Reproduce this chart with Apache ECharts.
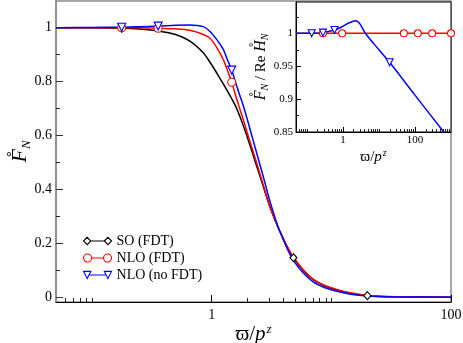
<!DOCTYPE html>
<html>
<head>
<meta charset="utf-8">
<script src="https://cdn.jsdelivr.net/npm/echarts@6/dist/echarts.min.js"></script>
<style>
  html, body { margin: 0; padding: 0; background: #fff; }
  #chart { width: 463px; height: 343px; }
</style>
</head>
<body>
<div id="chart"></div>
<script>
// main panel: F_N vs varpi/p^z
const mainX = [0.05, 0.1, 0.177, 0.25, 0.357, 0.5, 0.658, 0.85, 0.968, 1.1, 1.25, 1.335, 1.47, 1.62, 1.84, 2.09, 2.38, 2.7, 3.07, 3.68, 4.82, 7.09, 11.1, 20, 40, 100];
const soFdt = [1.0, 0.9995, 0.998, 0.995, 0.988, 0.975, 0.95, 0.907, 0.872, 0.833, 0.792, 0.77, 0.737, 0.70, 0.637, 0.565, 0.487, 0.412, 0.336, 0.25, 0.148, 0.066, 0.0285, 0.0074, 0.003, 0.002];
const nloFdt = [1.0, 1.0, 1.0, 1.0, 0.998, 0.996, 0.991, 0.975, 0.961, 0.927, 0.882, 0.85, 0.798, 0.735, 0.658, 0.578, 0.498, 0.417, 0.337, 0.25, 0.15, 0.068, 0.03, 0.008, 0.003, 0.002];
const nloNoFdt = [1.0, 1.001, 1.002, 1.004, 1.006, 1.009, 1.010, 1.004, 0.986, 0.957, 0.92, 0.888, 0.843, 0.783, 0.71, 0.625, 0.535, 0.448, 0.357, 0.25, 0.138, 0.058, 0.024, 0.006, 0.0025, 0.002];
const soMarks = [0.177, 4.82, 20];
const nloMarks = [0.177, 0.357, 1.47];

// inset: F_N / Re H_N
const insetFdtX = [0.05, 0.28, 0.955, 49, 120, 300, 1000];
const insetFdt = [1, 1, 1, 1, 1, 1, 1];
const insetNoFdtX = [0.05, 0.136, 0.28, 0.584, 0.955, 1.5, 2.28, 3.0, 4.2, 10, 19.8, 100, 630, 1000];
const insetNoFdt = [1.0, 1.0, 1.001, 1.005, 1.010, 1.016, 1.019, 1.014, 1.0, 0.975, 0.956, 0.906, 0.85, 0.836];
const insetFdtMarks = [0.28, 0.955, 49, 120, 300, 1000];
const insetNoFdtMarks = [0.136, 0.28, 0.584, 19.8];

// tick values
const mainYTicks = [0, 0.2, 0.4, 0.6, 0.8, 1];
const mainYMinor = [0.1, 0.3, 0.5, 0.7, 0.9];
const mainXTicks = [1, 100];
const mainXMinor = [0.06, 0.07, 0.08, 0.09, 0.1, 2, 3, 4, 5, 6, 7, 8, 9, 10];
const insetYTicks = [0.85, 0.9, 0.95, 1];
const insetYMinor = [0.875, 0.925, 0.975, 1.025];
const insetXTicks = [1, 100];
const insetXMinor = [0.06, 0.07, 0.08, 0.09, 0.1, 0.2, 0.3, 0.4, 0.5, 0.6, 0.7, 0.8, 0.9,
  2, 3, 4, 5, 6, 7, 8, 9, 10, 20, 30, 40, 50, 60, 70, 80, 90, 200, 300, 400, 500, 600, 700, 800, 900];

const serif = 'Liberation Serif';

function pts(xs, ys, marks, color, symbol, size, rotate) {
  return xs.map((x, i) => {
    const item = { value: [x, ys[i]] };
    if (marks.indexOf(x) >= 0) {
      item.symbol = symbol;
      item.symbolSize = size;
      item.symbolRotate = rotate || 0;
      item.itemStyle = { color: '#fff', borderColor: color, borderWidth: 1.1 };
    }
    return item;
  });
}

function line(name, color, data, xi, yi) {
  return {
    name: name, type: 'line', xAxisIndex: xi, yAxisIndex: yi,
    data: data, symbol: 'none', smooth: 0.3,
    lineStyle: { color: color, width: 1.5 },
    itemStyle: { color: color }
  };
}

function minorAxis(kind, grid, range, vals, len, pos) {
  return {
    type: kind, gridIndex: grid, min: range[0], max: range[1], position: pos,
    axisLine: { show: false, onZero: false },
    axisTick: { show: true, inside: true, length: len, customValues: vals, lineStyle: { color: '#222' } },
    axisLabel: { show: false }, splitLine: { show: false }
  };
}

const titleRich = {
  f: { fontFamily: serif, fontStyle: 'italic', fontSize: 22, color: '#000' },
  n: { fontFamily: serif, fontStyle: 'italic', fontSize: 13, color: '#000', padding: [12, 0, 0, 0] },
  r: { fontFamily: serif, fontSize: 15, color: '#000' },
  f2: { fontFamily: serif, fontStyle: 'italic', fontSize: 16, color: '#000' },
  n2: { fontFamily: serif, fontStyle: 'italic', fontSize: 10, color: '#000', padding: [8, 0, 0, 0] },
  w: { fontFamily: serif, fontSize: 21, color: '#000' },
  p: { fontFamily: serif, fontStyle: 'italic', fontSize: 21, color: '#000' },
  z: { fontFamily: serif, fontStyle: 'italic', fontSize: 13, color: '#000', padding: [0, 0, 10, 1] },
  w2: { fontFamily: serif, fontSize: 15, color: '#000' },
  p2: { fontFamily: serif, fontStyle: 'italic', fontSize: 15, color: '#000' },
  z2: { fontFamily: serif, fontStyle: 'italic', fontSize: 10, color: '#000', padding: [0, 0, 8, 1] }
};

const diamondIcon = 'path://M0.5,4.5 L4,1 L7.5,4.5 L4,8 Z M7.5,4.5 L20.5,4.5 M20.5,4.5 L24,1 L27.5,4.5 L24,8 Z';
const circleIcon = 'path://M0,4.5 A4,4 0 1 1 8,4.5 A4,4 0 1 1 0,4.5 Z M8,4.5 L20,4.5 M20,4.5 A4,4 0 1 1 28,4.5 A4,4 0 1 1 20,4.5 Z';
const triangleIcon = 'path://M0.5,1 L7.5,1 L4,8 Z M5.5,4.5 L22.5,4.5 M20.5,1 L27.5,1 L24,8 Z';

const chart = echarts.init(document.getElementById('chart'));

chart.setOption({
  animation: false,
  backgroundColor: '#fff',
  grid: [
    { left: 56, top: 1, right: 12, bottom: 41, outerBoundsMode: 'none', containLabel: false,
      show: true, borderColor: '#8a8a8a', borderWidth: 1.5 },
    { left: 296, top: 2, right: 12, height: 130, outerBoundsMode: 'none', containLabel: false,
      show: true, backgroundColor: '#fff', borderColor: '#000', borderWidth: 1 }
  ],
  legend: {
    orient: 'vertical', left: 78, top: 229, itemWidth: 28, itemHeight: 9, itemGap: 3,
    selectedMode: false,
    textStyle: { fontFamily: serif, fontSize: 14, color: '#000' },
    data: [
      { name: 'SO (FDT)', icon: diamondIcon, itemStyle: { color: 'transparent', borderColor: '#000', borderWidth: 1.1 } },
      { name: 'NLO (FDT)', icon: circleIcon, itemStyle: { color: 'transparent', borderColor: '#ff0000', borderWidth: 1.1 } },
      { name: 'NLO (no FDT)', icon: triangleIcon, itemStyle: { color: 'transparent', borderColor: '#0000ff', borderWidth: 1.1 } }
    ]
  },
  xAxis: [
    {
      type: 'log', gridIndex: 0, min: 0.05, max: 100, position: 'bottom',
      axisLine: { onZero: false, lineStyle: { color: '#000', width: 1 } },
      axisTick: { inside: true, length: 7, customValues: mainXTicks, lineStyle: { color: '#000' } },
      axisLabel: { customValues: mainXTicks, fontFamily: serif, fontSize: 14, color: '#000', margin: 6 },
      splitLine: { show: false },
      name: '{w|ϖ/}{p|p}{z|z}', nameLocation: 'middle', nameGap: 21, nameMoveOverlap: false,
      nameTextStyle: { rich: titleRich }
    },
    minorAxis('log', 0, [0.05, 100], mainXMinor, 4, 'bottom'),
    {
      type: 'log', gridIndex: 1, min: 0.05, max: 1000, position: 'bottom',
      axisLine: { onZero: false, lineStyle: { color: '#000', width: 1 } },
      axisTick: { inside: true, length: 5, customValues: insetXTicks, lineStyle: { color: '#000' } },
      axisLabel: { customValues: insetXTicks, fontFamily: serif, fontSize: 11, color: '#000', margin: 3 },
      splitLine: { show: false },
      name: '{w2|ϖ/}{p2|p}{z2|z}', nameLocation: 'middle', nameGap: 16, nameMoveOverlap: false,
      nameTextStyle: { rich: titleRich }
    },
    minorAxis('log', 1, [0.05, 1000], insetXMinor, 3, 'bottom')
  ],
  yAxis: [
    {
      type: 'value', gridIndex: 0, min: -0.016, max: 1.099, position: 'left',
      axisLine: { show: true, onZero: false, lineStyle: { color: '#8a8a8a', width: 1.5 } },
      axisTick: { inside: true, length: 7, customValues: mainYTicks, lineStyle: { color: '#333' } },
      axisLabel: { customValues: mainYTicks, fontFamily: serif, fontSize: 14, color: '#000', margin: 4 },
      splitLine: { show: false },
      name: '{f|F̊}{n|N}', nameLocation: 'middle', nameGap: 23, nameRotate: 90, nameMoveOverlap: false,
      nameTextStyle: { rich: titleRich }
    },
    minorAxis('value', 0, [-0.016, 1.099], mainYMinor, 4, 'left'),
    {
      type: 'value', gridIndex: 1, min: 0.85, max: 1.0476, position: 'left',
      axisLine: { show: true, onZero: false, lineStyle: { color: '#000', width: 1 } },
      axisTick: { inside: true, length: 5, customValues: insetYTicks, lineStyle: { color: '#000' } },
      axisLabel: { customValues: insetYTicks, fontFamily: serif, fontSize: 11, color: '#000', margin: 3 },
      splitLine: { show: false },
      name: '{f2|F̊}{n2|N}{r| / Re }{f2|H̊}{n2|N}', nameLocation: 'middle', nameGap: 26, nameRotate: 90,
      nameMoveOverlap: false,
      nameTextStyle: { rich: titleRich }
    },
    minorAxis('value', 1, [0.85, 1.0476], insetYMinor, 3, 'left')
  ],
  series: [
    line('SO (FDT)', '#000000', pts(mainX, soFdt, soMarks, '#000000', 'diamond', [7, 8]), 0, 0),
    line('NLO (FDT)', '#ff0000', pts(mainX, nloFdt, nloMarks, '#ff0000', 'circle', 8), 0, 0),
    line('NLO (no FDT)', '#0000ff', pts(mainX, nloNoFdt, nloMarks, '#0000ff', 'triangle', 8, 180), 0, 0),
    line('inset FDT', '#ff0000', pts(insetFdtX, insetFdt, insetFdtMarks, '#ff0000', 'circle', 7), 2, 2),
    line('inset no FDT', '#0000ff', pts(insetNoFdtX, insetNoFdt, insetNoFdtMarks, '#0000ff', 'triangle', 7, 180), 2, 2)
  ]
});
</script>
</body>
</html>
